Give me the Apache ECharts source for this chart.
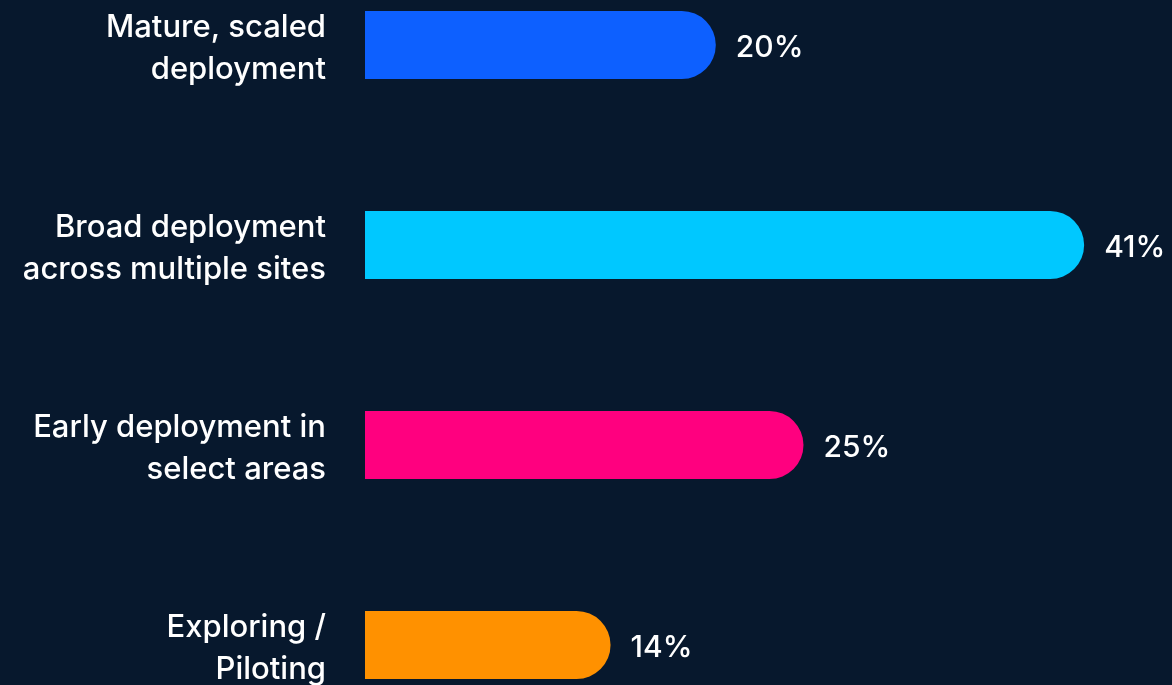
<!DOCTYPE html>
<html><head><meta charset="utf-8">
<script src="https://cdn.jsdelivr.net/npm/echarts@6/dist/echarts.min.js"></script>
<style>html,body{margin:0;padding:0;background:#07182d;}#c{width:1172px;height:685px;}</style>
</head><body><div id="c"></div>
<script>
const categories = ["Mature, scaled\ndeployment", "Broad deployment\nacross multiple sites", "Early deployment in\nselect areas", "Exploring /\nPiloting"];
const values = [20, 41, 25, 14];
const colors = ["#0d60ff", "#00c8ff", "#ff007f", "#ff9100"];

const chart = echarts.init(document.getElementById('c'));
chart.setOption({
  backgroundColor: "#07182d",
  animation: false,
  grid: { left: 365, top: -55, width: 789.3, height: 800, containLabel: false, outerBoundsMode: 'none' },
  xAxis: { type: 'value', min: 0, max: 45, show: false },
  yAxis: {
    type: 'category', inverse: true, data: categories,
    axisLine: { show: false }, axisTick: { show: false }, splitLine: { show: false },
    axisLabel: {
      margin: 39, align: 'right',
      formatter: v => '{t|' + v.split('\n').join('}\n{t|') + '}',
      rich: { t: { color: '#ffffff', fontSize: 31, fontWeight: 500, fontFamily: 'Inter', lineHeight: 42, padding: [8, 0, 0, 0], align: 'right' } }
    }
  },
  series: [{
    type: 'bar', barWidth: 68,
    data: values.map((v, i) => ({ value: v, itemStyle: { color: colors[i] } })),
    itemStyle: { borderRadius: [0, 34, 34, 0] },
    label: { show: true, position: 'right', distance: 20, offset: [0, 3], formatter: '{c}%', color: '#ffffff', fontSize: 30, fontWeight: 500, fontFamily: 'Inter' }
  }]
});
</script></body></html>
